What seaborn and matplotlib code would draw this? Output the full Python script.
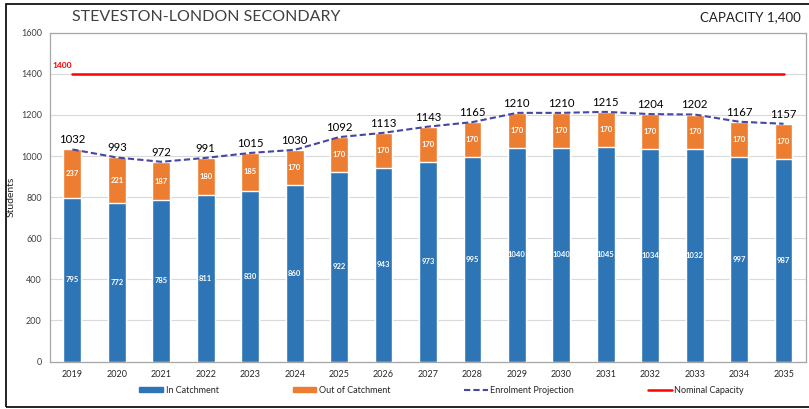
import matplotlib
matplotlib.use("Agg")
import matplotlib.pyplot as plt
import seaborn as sns
import pandas as pd
import numpy as np
from matplotlib.patches import Rectangle

years = ["2019", "2020", "2021", "2022", "2023", "2024", "2025", "2026", "2027",
         "2028", "2029", "2030", "2031", "2032", "2033", "2034", "2035"]
in_catchment = [795, 772, 785, 811, 830, 860, 922, 943, 973, 995, 1040, 1040, 1045, 1034, 1032, 997, 987]
out_catchment = [237, 221, 187, 180, 185, 170, 170, 170, 170, 170, 170, 170, 170, 170, 170, 170, 170]
projection = [1032, 993, 972, 991, 1015, 1030, 1092, 1113, 1143, 1165, 1210, 1210, 1215, 1204, 1202, 1167, 1157]
capacity = 1400

BLUE = "#2E75B6"
ORANGE = "#ED7D31"
DASH = "#4646A6"
RED = "#FF0000"
FONT = ["Lato", "DejaVu Sans"]

sns.set_theme(style="white")
plt.rcParams["font.family"] = FONT

df = pd.DataFrame({"year": years, "in": in_catchment, "out": out_catchment, "total": projection})
df["total_bar"] = df["in"] + df["out"]
pos = np.arange(len(years))

fig = plt.figure(figsize=(8.09, 4.09), dpi=100)
ax = fig.add_axes([0.062, 0.116, 0.934, 0.804])

# stacked bars: totals in orange, in-catchment drawn over them
sns.barplot(data=df, x="year", y="total_bar", color=ORANGE, width=0.4, saturation=1, ax=ax, zorder=2)
sns.barplot(data=df, x="year", y="in", color=BLUE, width=0.4, saturation=1, ax=ax, zorder=3)

sns.lineplot(x=pos, y=df["total"], color=DASH, linestyle=(0, (3, 1.5)), linewidth=1.5, ax=ax, zorder=4)
sns.lineplot(x=pos, y=[capacity] * len(pos), color=RED, linewidth=1.8, ax=ax, zorder=4)

for i in range(len(years)):
    ax.text(pos[i], in_catchment[i] / 2, str(in_catchment[i]), ha="center", va="center",
            color="white", fontsize=5.5, fontweight="bold", zorder=5)
    ax.text(pos[i], in_catchment[i] + out_catchment[i] / 2, str(out_catchment[i]), ha="center",
            va="center", color="white", fontsize=5.5, fontweight="bold", zorder=5)
    ax.text(pos[i], projection[i] + 20, str(projection[i]), ha="center", va="bottom",
            color="black", fontsize=8.2, zorder=5)

ax.text(-0.45, capacity + 25, str(capacity), color=RED, fontsize=6, fontweight="bold", va="bottom")

ax.set_xlim(-0.5, 16.5)
ax.set_ylim(0, 1600)
ax.set_yticks(range(0, 1601, 200))
ax.yaxis.grid(True, color="#D9D9D9", linewidth=0.8)
ax.set_axisbelow(True)
ax.tick_params(axis="both", labelsize=6.5, length=0, pad=6)
ax.tick_params(axis="y", colors="#404040")
ax.set_xlabel("")
ax.set_ylabel("Students", fontsize=7.5)
ax.yaxis.set_label_coords(-0.046, 0.5)
for s in ax.spines.values():
    s.set_color("#A6A6A6")
    s.set_linewidth(0.9)

fig.text(0.255, 0.958, "STEVESTON-LONDON SECONDARY", fontsize=11.5, color="#404040", ha="center", va="center")
fig.text(0.99, 0.958, "CAPACITY 1,400", fontsize=9.5, color="#202020", ha="right", va="center")

handles = [
    Rectangle((0, 0), 1, 1, color=BLUE),
    Rectangle((0, 0), 1, 1, color=ORANGE),
    plt.Line2D([0], [0], color=DASH, linestyle=(0, (3, 1.5)), linewidth=1.5),
    plt.Line2D([0], [0], color=RED, linewidth=1.8),
]
labels = ["In Catchment", "Out of Catchment", "Enrolment Projection", "Nominal Capacity"]
fig.legend(handles, labels, loc="center", bbox_to_anchor=(0.546, 0.045), ncol=4, frameon=False,
           fontsize=6.5, columnspacing=8.2, handlelength=2.6, handleheight=0.5, handletextpad=0.3)

# outer chart frame
fig.patches.append(Rectangle((0.007, 0.006), 1.2, 0.983, transform=fig.transFigure,
                             fill=False, edgecolor="black", linewidth=1.2))

fig.savefig("out.png", dpi=100)
